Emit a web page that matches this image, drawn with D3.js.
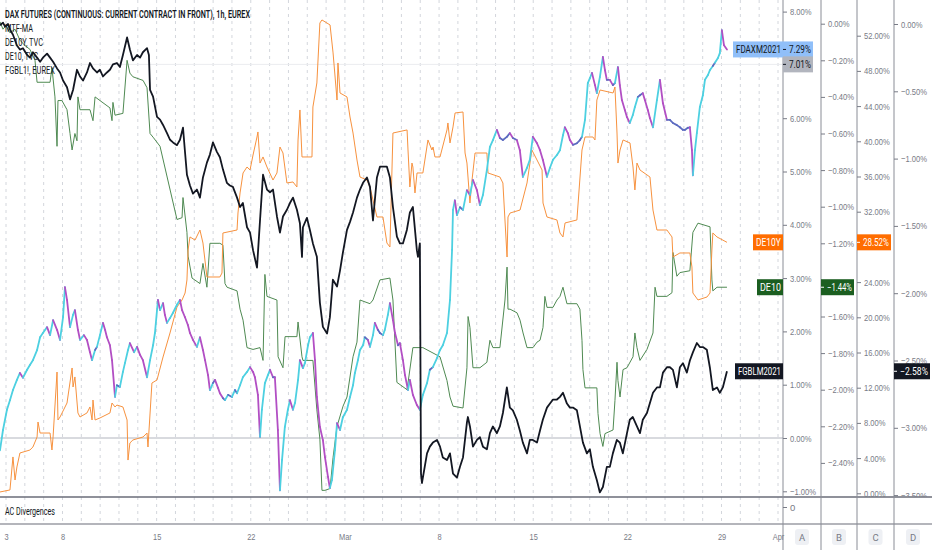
<!DOCTYPE html>
<html>
<head>
<meta charset="utf-8">
<script src="https://cdn.jsdelivr.net/npm/d3@7"></script>
<style>
  html, body { margin: 0; padding: 0; background: #fff; }
  svg { display: block; font-family: Roboto, "Liberation Sans", sans-serif; }
</style>
</head>
<body>
<svg id="chart" width="932" height="550"></svg>
<script>
// time unit: trading sessions counted from Wed 3 Feb 2021
const dayTicks = [0, 3, 8, 13, 18, 23, 28, 33, 38, 41];
const dayLabels = ["3", "8", "15", "22", "Mar", "8", "15", "22", "29", "Apr"];

// FDAXM2021 (% change, main axis)
const daxSeries = [
  [-0.32,-0.23],[-0.16,0.15],[0.05,0.53],[0.21,0.71],[0.37,0.90],[0.58,1.09],[0.74,1.22],[0.90,1.13],[1.12,1.28],[1.27,1.37],
  [1.43,1.46],[1.65,1.65],[1.81,1.89],[1.96,1.97],[2.18,2.08],[2.34,1.93],[2.50,2.21],[2.71,2.03],[2.87,1.84],[3.03,2.27],
  [3.13,2.83],[3.24,2.59],[3.40,2.08],[3.56,2.31],[3.66,2.40],[3.82,2.03],[3.93,1.84],[4.14,1.93],[4.30,1.84],[4.46,1.61],
  [4.57,1.46],[4.73,1.65],[4.83,1.71],[4.99,1.93],[5.15,2.16],[5.26,2.03],[5.36,1.89],[5.52,1.74],[5.63,1.46],[5.79,0.77],
  [5.89,0.99],[6.05,0.96],[6.21,1.24],[6.32,1.41],[6.48,1.65],[6.58,1.78],[6.80,1.61],[6.96,1.71],[7.12,1.56],[7.27,1.46],
  [7.49,1.14],[7.65,1.46],[7.81,1.74],[7.91,1.97],[8.07,2.59],[8.18,2.40],[8.34,2.53],[8.44,2.31],[8.55,2.16],[8.71,2.25],
  [8.87,2.35],[9.08,2.50],[9.24,2.59],[9.35,2.40],[9.50,2.27],[9.66,2.12],[9.77,1.97],[9.93,1.84],[10.14,1.71],[10.30,1.89],
  [10.46,1.65],[10.57,1.46],[10.73,1.18],[10.83,0.90],[10.99,1.03],[11.10,1.09],[11.26,0.94],[11.36,0.84],[11.52,0.75],[11.63,0.71],
  [11.79,0.81],[12.00,0.77],[12.16,0.90],[12.27,0.84],[12.43,0.99],[12.58,1.14],[12.80,1.24],[12.96,1.33],[13.12,1.24],[13.22,1.14],
  [13.38,0.81],[13.49,0.02],[13.59,0.53],[13.75,1.03],[13.91,1.18],[14.02,1.28],[14.18,1.14],[14.28,1.14],[14.44,0.15],[14.55,-0.98],
  [14.66,-0.41],[14.81,0.21],[14.97,0.53],[15.08,0.71],[15.24,0.53],[15.35,0.66],[15.51,1.09],[15.61,1.46],[15.77,1.31],[15.88,1.41],
  [16.04,1.74],[16.14,1.89],[16.30,1.97],[16.41,1.46],[16.51,0.77],[16.67,0.21],[16.83,-0.04],[16.94,-0.36],[17.10,-0.73],[17.20,-0.94],
  [17.31,-0.79],[17.47,-0.23],[17.58,0.28],[17.74,0.15],[17.89,0.39],[18.11,0.53],[18.27,0.77],[18.43,0.99],[18.53,1.22],[18.69,1.46],
  [18.80,1.65],[18.96,1.74],[19.06,1.89],[19.22,1.84],[19.33,1.71],[19.49,1.93],[19.59,2.16],[19.75,2.03],[19.86,1.97],[20.02,1.93],
  [20.12,2.03],[20.28,2.31],[20.39,2.53],[20.55,2.21],[20.66,1.97],[20.82,1.74],[20.92,1.78],[21.08,1.46],[21.19,1.18],[21.35,0.90],
  [21.45,1.09],[21.61,0.81],[21.82,0.62],[21.98,0.53],[22.14,0.81],[22.36,1.03],[22.51,1.28],[22.67,1.33],[22.89,1.50],[23.05,1.65],
  [23.20,1.74],[23.42,1.97],[23.58,2.59],[23.69,3.53],[23.74,4.28],[23.84,4.46],[23.95,4.18],[24.11,4.33],[24.27,4.28],[24.48,4.65],
  [24.64,4.56],[24.80,4.84],[25.01,4.65],[25.17,4.37],[25.33,4.56],[25.54,5.03],[25.70,5.46],[25.86,5.59],[26.07,5.78],[26.23,5.63],
  [26.39,5.59],[26.60,5.65],[26.76,5.72],[26.92,5.63],[27.13,5.59],[27.29,5.40],[27.45,4.90],[27.67,5.07],[27.82,5.22],[27.98,5.65],
  [28.20,5.53],[28.36,5.40],[28.51,5.22],[28.73,4.90],[28.89,5.07],[29.05,5.22],[29.26,5.31],[29.42,5.40],[29.58,5.68],[29.68,5.83],
  [29.84,5.72],[29.95,5.59],[30.11,5.50],[30.32,5.53],[30.48,5.59],[30.59,5.65],[30.75,5.97],[30.90,6.66],[31.01,6.75],[31.12,6.85],
  [31.28,6.62],[31.38,6.47],[31.54,6.77],[31.70,7.15],[31.81,6.90],[31.91,6.72],[32.07,6.72],[32.23,6.62],[32.34,6.66],[32.50,6.96],
  [32.60,6.62],[32.71,6.34],[32.87,6.15],[32.98,6.02],[33.13,5.91],[33.29,6.06],[33.40,6.21],[33.56,6.40],[33.67,6.43],[33.82,6.47],
  [33.93,6.34],[34.09,6.15],[34.20,6.00],[34.36,5.83],[34.57,6.34],[34.73,6.72],[34.89,6.28],[35.10,5.97],[35.26,5.97],[35.42,5.91],
  [35.63,5.87],[35.79,5.83],[35.95,5.78],[36.05,5.78],[36.21,5.82],[36.32,5.83],[36.43,5.40],[36.48,4.93],[36.59,5.40],[36.69,5.72],
  [36.85,6.21],[37.01,6.43],[37.12,6.72],[37.28,6.81],[37.38,6.90],[37.54,6.98],[37.65,7.04],[37.81,7.13],[37.91,7.22],[38.02,7.65],
  [38.13,7.37],[38.29,7.29]
];

// FGBLM2021 (% change, axis D)
const fgblSeries = [
  [-0.32,-0.01],[-0.16,0.01],[-0.05,-0.02],[0.11,0.00],[0.21,-0.04],[0.37,-0.08],[0.58,-0.16],[0.74,-0.19],[0.90,-0.18],[1.12,-0.23],
  [1.27,-0.25],[1.43,-0.21],[1.65,-0.25],[1.81,-0.28],[1.96,-0.25],[2.18,-0.22],[2.34,-0.25],[2.50,-0.28],[2.71,-0.33],[2.87,-0.36],
  [3.03,-0.42],[3.24,-0.47],[3.40,-0.56],[3.56,-0.49],[3.77,-0.34],[3.93,-0.39],[4.09,-0.42],[4.30,-0.36],[4.46,-0.29],[4.62,-0.33],
  [4.83,-0.36],[4.99,-0.34],[5.15,-0.39],[5.36,-0.36],[5.52,-0.34],[5.68,-0.30],[5.89,-0.29],[6.05,-0.32],[6.21,-0.23],[6.43,-0.10],
  [6.58,-0.19],[6.74,-0.27],[6.96,-0.23],[7.12,-0.25],[7.27,-0.21],[7.49,-0.18],[7.59,-0.23],[7.65,-0.49],[7.81,-0.54],[8.02,-0.69],
  [8.18,-0.71],[8.34,-0.75],[8.55,-0.81],[8.71,-0.86],[8.87,-0.88],[9.08,-0.90],[9.24,-0.86],[9.40,-0.77],[9.50,-0.94],[9.61,-1.12],
  [9.77,-1.20],[9.93,-1.26],[10.14,-1.23],[10.30,-1.29],[10.46,-1.14],[10.67,-1.03],[10.83,-0.97],[10.99,-0.88],[11.20,-0.95],[11.36,-0.99],
  [11.52,-1.08],[11.73,-1.18],[11.89,-1.20],[12.05,-1.21],[12.27,-1.29],[12.43,-1.36],[12.58,-1.33],[12.80,-1.51],[12.96,-1.55],[13.12,-1.68],
  [13.33,-1.81],[13.49,-1.46],[13.65,-1.12],[13.86,-1.23],[14.02,-1.25],[14.18,-1.23],[14.39,-1.43],[14.55,-1.55],[14.71,-1.43],[14.92,-1.38],
  [15.08,-1.33],[15.24,-1.29],[15.45,-1.38],[15.61,-1.48],[15.72,-1.73],[15.77,-1.51],[15.98,-1.44],[16.14,-1.53],[16.30,-1.63],[16.51,-1.73],
  [16.67,-2.07],[16.83,-2.25],[17.05,-2.30],[17.20,-2.18],[17.36,-1.90],[17.58,-1.95],[17.74,-1.83],[17.89,-1.70],[18.11,-1.53],[18.27,-1.47],
  [18.43,-1.40],[18.64,-1.29],[18.80,-1.23],[18.96,-1.18],[19.17,-1.14],[19.33,-1.21],[19.49,-1.46],[19.70,-1.14],[19.86,-1.06],[20.02,-1.06],
  [20.23,-1.06],[20.39,-1.14],[20.55,-1.36],[20.76,-1.58],[20.92,-1.63],[21.08,-1.63],[21.29,-1.53],[21.45,-1.40],[21.61,-1.36],[21.82,-1.68],
  [21.88,-1.73],[21.98,-1.63],[22.04,-3.34],[22.09,-3.41],[22.14,-3.37],[22.36,-3.19],[22.51,-3.14],[22.67,-3.11],[22.89,-3.09],[23.05,-3.14],
  [23.20,-3.22],[23.42,-3.24],[23.58,-3.19],[23.74,-3.34],[23.95,-3.37],[24.11,-3.29],[24.27,-3.22],[24.48,-2.96],[24.53,-2.92],[24.64,-2.99],
  [24.80,-3.14],[25.01,-3.09],[25.17,-3.07],[25.33,-3.14],[25.54,-3.16],[25.70,-3.04],[25.86,-2.99],[26.07,-3.04],[26.23,-2.99],[26.39,-2.89],
  [26.60,-2.70],[26.76,-2.85],[26.92,-2.87],[27.13,-2.94],[27.29,-3.02],[27.45,-3.11],[27.67,-3.19],[27.82,-3.09],[27.98,-3.09],[28.20,-3.11],
  [28.36,-3.02],[28.51,-2.94],[28.73,-2.85],[28.89,-2.82],[29.05,-2.79],[29.26,-2.79],[29.42,-2.77],[29.58,-2.74],[29.79,-2.82],[29.95,-2.85],
  [30.11,-2.85],[30.32,-2.87],[30.48,-2.99],[30.64,-3.11],[30.85,-3.19],[31.01,-3.16],[31.17,-3.29],[31.38,-3.39],[31.54,-3.48],[31.70,-3.44],
  [31.91,-3.29],[32.07,-3.29],[32.23,-3.19],[32.44,-3.09],[32.60,-3.11],[32.76,-3.19],[32.98,-3.04],[33.13,-2.94],[33.29,-2.92],[33.51,-2.99],
  [33.67,-3.04],[33.82,-2.94],[34.04,-2.89],[34.36,-2.74],[34.57,-2.70],[34.73,-2.70],[34.89,-2.59],[35.10,-2.55],[35.26,-2.55],[35.42,-2.57],
  [35.63,-2.70],[35.79,-2.55],[35.95,-2.52],[36.16,-2.59],[36.32,-2.50],[36.48,-2.44],[36.69,-2.37],[36.85,-2.40],[37.01,-2.40],[37.22,-2.42],
  [37.38,-2.55],[37.54,-2.72],[37.76,-2.70],[37.91,-2.74],[38.07,-2.70],[38.29,-2.58]
];

// DE10 (% change, axis B)
const de10Series = [
  [-0.32,0.01],[-0.16,-0.03],[0.00,-0.01],[0.21,-0.05],[0.48,-0.03],[0.74,-0.09],[1.01,-0.12],[1.27,-0.14],[1.54,-0.20],[1.65,-0.32],
  [2.34,-0.32],[2.44,-0.24],[2.60,-0.40],[2.71,-0.67],[2.76,-0.42],[2.97,-0.42],[3.24,-0.47],[3.40,-0.60],[3.51,-0.69],[3.66,-0.60],
  [3.77,-0.64],[3.82,-0.40],[3.93,-0.47],[4.46,-0.47],[4.62,-0.53],[4.73,-0.40],[4.99,-0.42],[5.52,-0.46],[5.63,-0.53],[5.68,-0.43],
  [5.79,-0.50],[6.21,-0.49],[6.43,-0.20],[6.58,-0.27],[6.74,-0.29],[7.28,-0.31],[7.49,-0.35],[7.65,-0.60],[7.81,-0.62],[8.18,-0.67],
  [9.08,-1.07],[9.35,-1.06],[9.40,-0.95],[9.61,-1.14],[9.67,-1.27],[9.88,-1.39],[10.30,-1.42],[10.46,-1.31],[10.67,-1.44],[10.83,-1.20],
  [11.36,-1.20],[11.52,-1.21],[11.63,-1.42],[11.74,-1.44],[12.27,-1.46],[12.43,-1.56],[12.59,-1.62],[12.80,-1.77],[13.12,-1.78],[13.49,-1.77],
  [13.65,-1.84],[13.75,-1.37],[13.86,-1.49],[14.39,-1.51],[14.45,-1.82],[14.71,-1.88],[14.82,-1.71],[15.45,-1.71],[15.51,-1.63],[15.72,-1.82],
  [15.77,-1.84],[16.30,-1.84],[16.51,-2.11],[16.67,-2.27],[16.78,-2.55],[16.94,-2.55],[17.21,-2.54],[17.37,-2.37],[17.58,-2.20],[17.90,-2.09],
  [18.11,-2.04],[18.43,-1.82],[18.64,-1.74],[18.80,-1.51],[19.33,-1.53],[19.49,-1.51],[19.86,-1.40],[20.39,-1.39],[20.55,-1.51],[20.76,-1.96],
  [21.30,-2.00],[21.61,-1.77],[22.14,-1.77],[23.05,-1.82],[23.42,-1.95],[23.58,-2.04],[23.74,-2.09],[24.27,-2.10],[24.48,-1.88],[24.54,-1.60],
  [24.64,-1.66],[24.80,-1.88],[25.17,-1.88],[25.54,-1.85],[25.70,-1.73],[25.86,-1.77],[26.23,-1.77],[26.50,-1.51],[26.61,-1.33],[26.66,-1.56],
  [26.77,-1.56],[27.14,-1.58],[27.30,-1.62],[27.46,-1.69],[27.67,-1.77],[27.99,-1.77],[28.20,-1.74],[28.36,-1.73],[28.52,-1.66],[28.62,-1.49],
  [28.73,-1.55],[29.05,-1.55],[29.26,-1.51],[29.42,-1.49],[29.58,-1.44],[29.79,-1.53],[30.32,-1.53],[30.48,-1.56],[30.59,-1.73],[30.64,-1.89],
  [30.75,-1.99],[31.38,-1.99],[31.44,-2.13],[31.55,-2.24],[31.70,-2.31],[31.81,-2.24],[32.24,-2.22],[32.34,-2.06],[32.45,-1.85],[32.50,-1.95],
  [32.61,-2.04],[32.77,-1.89],[32.98,-1.88],[33.30,-1.82],[33.40,-1.69],[33.51,-1.77],[33.67,-1.84],[34.04,-1.78],[34.36,-1.69],[34.47,-1.44],
  [34.57,-1.49],[35.10,-1.49],[35.37,-1.47],[35.42,-1.25],[35.63,-1.38],[35.79,-1.36],[36.32,-1.35],[36.48,-1.14],[36.75,-1.09],[37.39,-1.11],
  [37.49,-1.40],[37.54,-1.46],[37.76,-1.44],[38.29,-1.44]
];

// DE10Y (% change, axis C)
const de10ySeries = [
  [-0.32,0.15],[0.21,0.38],[0.37,4.13],[0.48,1.51],[0.58,2.99],[0.74,4.58],[1.27,4.92],[1.43,5.26],[1.65,6.40],[1.70,8.10],
  [1.81,6.85],[2.34,6.85],[2.44,4.92],[2.50,6.40],[2.71,13.78],[2.76,8.33],[2.87,8.67],[3.24,10.26],[3.51,14.24],[3.56,12.08],
  [3.66,13.22],[3.82,9.13],[3.93,8.67],[4.30,9.13],[4.46,9.81],[4.57,8.33],[4.62,10.60],[4.73,8.33],[4.99,8.56],[5.52,9.13],
  [5.63,10.26],[5.79,9.81],[5.89,10.03],[6.21,9.81],[6.43,8.33],[6.48,3.78],[6.58,5.72],[6.74,6.06],[7.28,6.40],[7.49,6.85],
  [7.54,5.26],[7.75,12.53],[8.02,12.88],[8.34,15.49],[8.71,18.22],[9.08,21.17],[9.35,21.97],[9.51,22.76],[9.61,24.24],[9.67,27.65],
  [9.77,29.13],[10.04,28.78],[10.30,29.92],[10.46,28.44],[10.67,24.58],[11.36,24.58],[11.47,25.03],[11.52,29.58],[12.27,29.92],[12.32,31.85],
  [12.43,34.13],[12.59,36.40],[12.80,37.08],[12.96,36.74],[13.12,38.44],[13.33,40.49],[13.38,41.06],[13.49,37.53],[13.65,38.22],[13.86,37.08],
  [14.18,35.60],[14.39,36.40],[14.55,39.35],[14.71,38.67],[14.92,35.26],[15.24,35.38],[15.45,34.81],[15.51,40.15],[15.61,43.56],[15.72,38.22],
  [16.25,38.22],[16.30,43.90],[16.51,46.63],[16.67,53.44],[16.78,53.79],[17.21,53.22],[17.37,50.04],[17.58,44.69],[17.63,48.90],[17.74,45.49],
  [18.11,45.04],[18.27,42.76],[18.43,40.94],[18.64,37.88],[18.80,35.94],[19.17,35.60],[19.33,34.81],[19.49,33.33],[19.70,31.40],[20.02,31.40],
  [20.23,28.44],[20.39,27.99],[20.55,40.94],[21.30,41.29],[21.35,39.01],[21.45,34.81],[21.56,37.53],[21.61,37.08],[21.72,34.13],[21.83,36.40],
  [22.14,36.40],[22.41,40.15],[22.62,39.01],[22.68,39.35],[22.78,38.22],[23.05,38.22],[23.42,41.29],[23.47,42.08],[23.58,39.81],[23.74,41.63],
  [23.85,43.22],[24.27,43.33],[24.38,38.67],[24.48,37.53],[24.64,32.99],[24.75,35.60],[24.91,38.67],[25.54,38.67],[25.60,36.40],[26.23,35.94],
  [26.39,35.26],[26.61,26.85],[26.66,31.40],[26.77,31.85],[27.30,32.19],[27.67,35.26],[27.93,39.01],[28.20,37.88],[28.47,36.74],[28.52,32.99],
  [28.73,31.40],[29.26,31.06],[29.42,29.58],[29.58,29.13],[29.69,30.72],[30.32,31.06],[30.59,39.01],[30.75,40.49],[31.17,40.49],[31.28,40.15],
  [31.38,44.69],[31.55,45.83],[32.24,45.49],[32.34,46.17],[32.45,40.94],[32.50,37.53],[32.61,39.01],[32.77,40.15],[33.14,39.81],[33.30,37.08],
  [33.40,34.47],[33.51,37.53],[33.67,36.74],[34.20,35.94],[34.36,32.19],[34.57,29.92],[35.10,29.92],[35.37,29.13],[35.42,26.85],[35.79,27.31],
  [36.32,27.31],[36.43,25.72],[36.48,22.76],[36.75,21.97],[37.23,22.31],[37.39,22.76],[37.49,27.65],[37.54,29.58],[37.76,29.13],[38.29,28.52]
];

const mtfMaLast = 7.01;

// tick values of the four price scales
const ticksA = [-1, 0, 1, 2, 3, 4, 5, 6, 7, 8];
const ticksB = [0, -0.2, -0.4, -0.6, -0.8, -1, -1.2, -1.4, -1.6, -1.8, -2, -2.2, -2.4, -2.6];
const ticksC = [0, 4, 8, 12, 16, 20, 24, 28, 32, 36, 40, 44, 48, 52];
const ticksD = [0, -0.5, -1, -1.5, -2, -2.5, -3, -3.5];
const scaleNames = ["A", "B", "C", "D"];

const legendLines = ["MTF-MA", "DE10Y, TVC", "DE10, TVC", "FGBL1!, EUREX"];
const legendTitle = "DAX FUTURES (CONTINUOUS: CURRENT CONTRACT IN FRONT), 1h, EUREX";

// ---- layout
const W = 932, H = 550;
const paneRight = 783, paneBottom = 497, indBottom = 524;
const colX = [783, 821, 857, 894, 932];
const textColor = "#131722", axisText = "#787b86", lineCol = "#8a8d96";

const x = d3.scaleLinear().domain([0, 41]).range([6, 778]);
const yA = d3.scaleLinear().domain([-1, 8]).range([491.3, 11.6]);
const yB = d3.scaleLinear().domain([-2.6, 0]).range([499.5, 23.7]);
const yC = d3.scaleLinear().domain([0, 52]).range([493.3, 35.7]);
const yD = d3.scaleLinear().domain([-3.5, 0]).range([495.1, 24]);
const yInd = d3.scaleLinear().domain([-1, 1]).range([517, 497]);

const pct = (v) => (v < -1e-9 ? "\u2212" : "") + Math.abs(v).toFixed(2) + "%";
const lastOf = (s) => s[s.length - 1][1];

// the screenshot's fonts are narrow; squeeze rendered labels horizontally
const squeeze = (sel, k) =>
  sel.each(function () {
    const w = this.getComputedTextLength();
    d3.select(this).attr("textLength", w * k).attr("lengthAdjust", "spacingAndGlyphs");
  });

const svg = d3.select("#chart");
const defs = svg.append("defs");
defs.append("clipPath").attr("id", "pane")
  .append("rect").attr("x", 0).attr("y", 0).attr("width", paneRight).attr("height", paneBottom);
defs.append("clipPath").attr("id", "scales")
  .append("rect").attr("x", paneRight).attr("y", 0).attr("width", W - paneRight).attr("height", paneBottom);

// daily dashed grid, through both panes
svg.append("g")
  .selectAll("line")
  .data(d3.range(0, 42))
  .join("line")
  .attr("x1", (d) => x(d)).attr("x2", (d) => x(d))
  .attr("y1", 0).attr("y2", indBottom)
  .attr("stroke", "#d3d6dc")
  .attr("stroke-dasharray", "3,4");

const pane = svg.append("g").attr("clip-path", "url(#pane)");

// baseline at 0 % and MTF-MA level
pane.append("line")
  .attr("x1", 0).attr("x2", paneRight)
  .attr("y1", yA(0)).attr("y2", yA(0))
  .attr("stroke", "#b2b5be");
pane.append("line")
  .attr("x1", 0).attr("x2", paneRight)
  .attr("y1", yA(mtfMaLast)).attr("y2", yA(mtfMaLast))
  .attr("stroke", "#ebecef");

const lineOn = (ys) => d3.line().x((d) => x(d[0])).y((d) => ys(d[1]));

pane.append("path")
  .attr("d", lineOn(yB)(de10Series))
  .attr("fill", "none")
  .attr("stroke", "#4f8a52")
  .attr("stroke-width", 1);

pane.append("path")
  .attr("d", lineOn(yC)(de10ySeries))
  .attr("fill", "none")
  .attr("stroke", "#f7923f")
  .attr("stroke-width", 1);

// DAX bars: colour by move direction
pane.append("g")
  .selectAll("line")
  .data(d3.pairs(daxSeries))
  .join("line")
  .attr("x1", (d) => x(d[0][0])).attr("y1", (d) => yA(d[0][1]))
  .attr("x2", (d) => x(d[1][0])).attr("y2", (d) => yA(d[1][1]))
  .attr("stroke", (d) => {
    const diff = d[1][1] - d[0][1];
    if (Math.abs(diff) < 0.08) return "#5c6bc0";
    return diff > 0 ? "#4dd0e1" : "#b24fc4";
  })
  .attr("stroke-width", 1.8)
  .attr("stroke-linecap", "round");

pane.append("path")
  .attr("d", lineOn(yD)(fgblSeries))
  .attr("fill", "none")
  .attr("stroke", textColor)
  .attr("stroke-width", 1.8)
  .attr("stroke-linejoin", "round");

// legend
const legend = svg.append("g").attr("fill", textColor);
legend.append("text")
  .attr("x", 5).attr("y", 17.5)
  .attr("font-size", 10).attr("font-weight", 600)
  .attr("textLength", 245).attr("lengthAdjust", "spacingAndGlyphs")
  .text(legendTitle);
const legendWidths = [28, 38, 33, 50];
legend.selectAll("text.item")
  .data(legendLines)
  .join("text")
  .attr("class", "item")
  .attr("x", 5).attr("y", (d, i) => 32 + i * 14)
  .attr("font-size", 10)
  .attr("textLength", (d, i) => legendWidths[i]).attr("lengthAdjust", "spacingAndGlyphs")
  .text((d) => d);

// pane separators and scale columns
svg.append("line").attr("x1", 0).attr("x2", W).attr("y1", paneBottom).attr("y2", paneBottom)
  .attr("stroke", "#6a6d78").attr("stroke-width", 1.5);
svg.append("line").attr("x1", 0).attr("x2", W).attr("y1", indBottom).attr("y2", indBottom)
  .attr("stroke", "#6a6d78").attr("stroke-width", 1.2);
svg.append("g")
  .selectAll("line")
  .data(colX.slice(0, 4))
  .join("line")
  .attr("x1", (d) => d).attr("x2", (d) => d)
  .attr("y1", 0).attr("y2", H)
  .attr("stroke", lineCol);

// price scales; a tick label sitting under a last-value tag is left out
const scaleDefs = [
  { ys: yA, ticks: ticksA, tags: [lastOf(daxSeries), mtfMaLast] },
  { ys: yB, ticks: ticksB, tags: [lastOf(de10Series)] },
  { ys: yC, ticks: ticksC, tags: [lastOf(de10ySeries)] },
  { ys: yD, ticks: ticksD, tags: [lastOf(fgblSeries)] },
];
const scalesG = svg.append("g").attr("clip-path", "url(#scales)");
scaleDefs.forEach((s, i) => {
  const free = s.ticks.filter((t) => s.tags.every((v) => Math.abs(s.ys(t) - s.ys(v)) > 8));
  const g = scalesG.append("g")
    .attr("transform", `translate(${colX[i]},0)`)
    .call(d3.axisRight(s.ys).tickValues(free).tickSize(4).tickPadding(3).tickFormat(pct));
  g.select(".domain").remove();
  g.selectAll(".tick line").attr("stroke", axisText);
  g.selectAll(".tick text").attr("fill", axisText).attr("font-size", 9.5).attr("font-family", null)
    .call(squeeze, 0.8);
});

// indicator pane
const ind = svg.append("g")
  .attr("transform", `translate(${paneRight},0)`)
  .call(d3.axisRight(yInd).tickValues([0]).tickSize(4).tickPadding(3).tickFormat(d3.format("d")));
ind.select(".domain").remove();
ind.selectAll(".tick line").attr("stroke", axisText);
ind.selectAll(".tick text").attr("fill", axisText).attr("font-size", 9.5).attr("font-family", null);
svg.append("text")
  .attr("x", 5).attr("y", 515)
  .attr("font-size", 10).attr("fill", textColor)
  .attr("textLength", 50).attr("lengthAdjust", "spacingAndGlyphs")
  .text("AC Divergences");

// time axis
const timeAxis = svg.append("g")
  .attr("transform", `translate(0,${indBottom})`)
  .call(d3.axisBottom(x).tickValues(dayTicks).tickSize(0).tickPadding(9)
    .tickFormat((d, i) => dayLabels[i]));
timeAxis.select(".domain").remove();
timeAxis.selectAll(".tick text").attr("fill", axisText).attr("font-size", 9.5).attr("font-family", null)
  .call(squeeze, 0.78);

// scale letters under each column
const letters = svg.append("g");
scaleNames.forEach((n, i) => {
  const cx = (colX[i] + colX[i + 1]) / 2;
  letters.append("rect")
    .attr("x", cx - 7).attr("y", 529).attr("width", 14).attr("height", 16).attr("rx", 3)
    .attr("fill", "#eef0f4");
  letters.append("text")
    .attr("x", cx).attr("y", 540.5)
    .attr("text-anchor", "middle").attr("font-size", 9.5).attr("fill", axisText)
    .text(n);
});

// last value tags (fixed widths as in the screenshot)
function addTag(x0, w, yc, label, fill, color, toLeft) {
  const g = svg.append("g");
  const left = toLeft ? x0 - w : x0;
  g.append("rect")
    .attr("x", left).attr("y", yc - 8).attr("width", w).attr("height", 16)
    .attr("fill", fill);
  const pad = toLeft ? 3 : 6;
  const t = g.append("text")
    .attr("dy", "0.35em")
    .attr("font-size", 10).attr("fill", color)
    .text(label);
  const k = Math.min(1, (w - pad - 2) / t.node().getComputedTextLength());
  t.attr("transform", `translate(${left + pad},${yc}) scale(${k},1)`);
  if (!toLeft) {
    g.append("line")
      .attr("x1", x0).attr("x2", x0 + 3).attr("y1", yc).attr("y2", yc)
      .attr("stroke", color);
  }
}

addTag(paneRight, 50, yA(lastOf(daxSeries)), "FDAXM2021", "#90bff9", textColor, true);
addTag(colX[0], 30, yA(lastOf(daxSeries)), pct(lastOf(daxSeries)), "#90bff9", textColor, false);
addTag(colX[0], 30, yA(mtfMaLast), pct(mtfMaLast), "#b2b5be", textColor, false);
addTag(paneRight, 30, yC(lastOf(de10ySeries)), "DE10Y", "#ff6d00", "#fff", true);
addTag(colX[2], 34, yC(lastOf(de10ySeries)), pct(lastOf(de10ySeries)), "#ff6d00", "#fff", false);
addTag(paneRight, 26, yB(lastOf(de10Series)), "DE10", "#1b5e20", "#fff", true);
addTag(colX[1], 33, yB(lastOf(de10Series)), pct(lastOf(de10Series)), "#1b5e20", "#fff", false);
addTag(paneRight, 48, yD(lastOf(fgblSeries)), "FGBLM2021", textColor, "#fff", true);
addTag(colX[3], 36, yD(lastOf(fgblSeries)), pct(lastOf(fgblSeries)), textColor, "#fff", false);
</script>
</body>
</html>
